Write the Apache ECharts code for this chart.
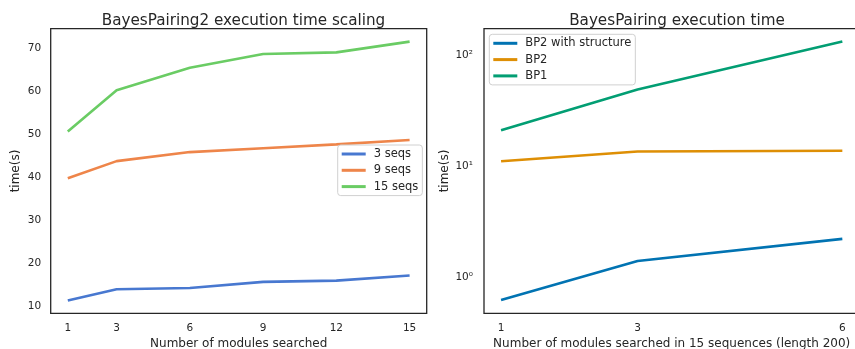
<!DOCTYPE html>
<html><head><meta charset="utf-8">
<script src="https://cdn.jsdelivr.net/npm/echarts@6/dist/echarts.min.js"></script>
<style>html,body{margin:0;padding:0;background:#fff}#c{width:855px;height:349px}</style>
</head><body><div id="c"></div>
<script>
// Left panel data
const modulesLeft = [1, 3, 6, 9, 12, 15];
const seqs3 = [11.3, 13.9, 14.2, 15.6, 15.9, 17.1];
const seqs9 = [39.7, 43.7, 45.8, 46.7, 47.6, 48.6];
const seqs15 = [50.6, 60.2, 65.4, 68.6, 69.0, 71.5];
const leftNames = ['3 seqs', '9 seqs', '15 seqs'];
const leftXTicks = [1, 3, 6, 9, 12, 15];
const leftYTicks = [10, 20, 30, 40, 50, 60, 70];
// Right panel data
const modulesRight = [1, 3, 6];
const bp2Struct = [0.63, 1.41, 2.23];
const bp2 = [11.1, 13.6, 13.8];
const bp1 = [21.1, 48.9, 132];
const rightNames = ['BP2 with structure', 'BP2', 'BP1'];
const rightXTicks = [1, 3, 6];
const rightYTicks = [1, 10, 100];
const supDigits = {'0':'⁰','1':'¹','2':'²','-':'⁻'};

const font = 'DejaVu Sans';
const ink = '#262626';
const leftColors = ['#4878d0', '#ee854a', '#6acc64'];
const rightColors = ['#0173b2', '#de8f05', '#029e73'];

function pairs(xs, ys) { return xs.map((x, i) => [x, ys[i]]); }
function lineSeries(name, data, color, idx) {
  return {
    name, type: 'line', data, xAxisIndex: idx, yAxisIndex: idx,
    showSymbol: false, symbol: 'none', smooth: false,
    lineStyle: { width: 2.6, color }, itemStyle: { color },
    emphasis: { disabled: true }
  };
}
const tickLabel = { fontFamily: font, fontSize: 10.5, color: ink };
const nameStyle = { fontFamily: font, fontSize: 12, color: ink };

const option = {
  animation: false,
  backgroundColor: '#fff',
  title: [
    { text: 'BayesPairing2 execution time scaling', left: 238.5, top: 9, textAlign: 'center',
      textStyle: { fontFamily: font, fontSize: 15.2, fontWeight: 'normal', color: ink } },
    { text: 'BayesPairing execution time', left: 672, top: 9, textAlign: 'center',
      textStyle: { fontFamily: font, fontSize: 15.2, fontWeight: 'normal', color: ink } }
  ],
  grid: [
    { left: 50.7, top: 28.7, width: 376, height: 284.6, show: true, borderColor: ink, borderWidth: 1.3,
      backgroundColor: 'transparent', containLabel: false, outerBoundsMode: 'none' },
    { left: 484, top: 28.7, width: 375.4, height: 284.6, show: true, borderColor: ink, borderWidth: 1.3,
      backgroundColor: 'transparent', containLabel: false, outerBoundsMode: 'none' }
  ],
  legend: [
    { data: leftNames, orient: 'vertical', left: 337.7, top: 145, padding: [3, 4, 3, 4],
      itemWidth: 24, itemHeight: 3, itemGap: 4.3, icon: 'rect',
      backgroundColor: 'rgba(255,255,255,0.8)', borderColor: '#d0d0d0', borderWidth: 1, borderRadius: 3,
      textStyle: { fontFamily: font, fontSize: 11.5, color: ink, lineHeight: 12, padding: [0, 0, 0, 3] } },
    { data: rightNames, orient: 'vertical', left: 489.3, top: 34.3, padding: [3, 4, 3, 4],
      itemWidth: 24, itemHeight: 3, itemGap: 4.3, icon: 'rect',
      backgroundColor: 'rgba(255,255,255,0.8)', borderColor: '#d0d0d0', borderWidth: 1, borderRadius: 3,
      textStyle: { fontFamily: font, fontSize: 11.5, color: ink, lineHeight: 12, padding: [0, 0, 0, 3] } }
  ],
  xAxis: [
    { type: 'value', gridIndex: 0, min: 0.3, max: 15.7,
      name: 'Number of modules searched', nameLocation: 'middle', nameGap: 23, nameTextStyle: nameStyle,
      axisLine: { show: false }, axisTick: { show: false }, splitLine: { show: false },
      axisLabel: Object.assign({ customValues: leftXTicks, margin: 9 }, tickLabel) },
    { type: 'value', gridIndex: 1, min: 0.75, max: 6.25,
      name: 'Number of modules searched in 15 sequences (length 200)', nameLocation: 'middle', nameGap: 23, nameTextStyle: nameStyle,
      axisLine: { show: false }, axisTick: { show: false }, splitLine: { show: false },
      axisLabel: Object.assign({ customValues: rightXTicks, margin: 9 }, tickLabel) }
  ],
  yAxis: [
    { type: 'value', gridIndex: 0, min: 8.3, max: 74.5,
      name: 'time(s)', nameLocation: 'middle', nameGap: 29, nameTextStyle: nameStyle,
      axisLine: { show: false }, axisTick: { show: false }, splitLine: { show: false },
      axisLabel: Object.assign({ customValues: leftYTicks, margin: 9.5 }, tickLabel) },
    { type: 'log', gridIndex: 1, logBase: 10, min: 0.479, max: 172,
      name: 'time(s)', nameLocation: 'middle', nameGap: 33, nameTextStyle: nameStyle,
      axisLine: { show: false }, axisTick: { show: false }, splitLine: { show: false },
      axisLabel: Object.assign({ customValues: rightYTicks, margin: 11,
        formatter: function (v) {
          const e = Math.round(Math.log10(v));
          return '10' + String(e).split('').map(c => supDigits[c] || c).join('');
        } }, tickLabel) }
  ],
  series: [
    lineSeries(leftNames[0], pairs(modulesLeft, seqs3), leftColors[0], 0),
    lineSeries(leftNames[1], pairs(modulesLeft, seqs9), leftColors[1], 0),
    lineSeries(leftNames[2], pairs(modulesLeft, seqs15), leftColors[2], 0),
    lineSeries(rightNames[0], pairs(modulesRight, bp2Struct), rightColors[0], 1),
    lineSeries(rightNames[1], pairs(modulesRight, bp2), rightColors[1], 1),
    lineSeries(rightNames[2], pairs(modulesRight, bp1), rightColors[2], 1)
  ]
};
const chart = echarts.init(document.getElementById('c'), null, { renderer: 'canvas' });
chart.setOption(option);
</script></body></html>
